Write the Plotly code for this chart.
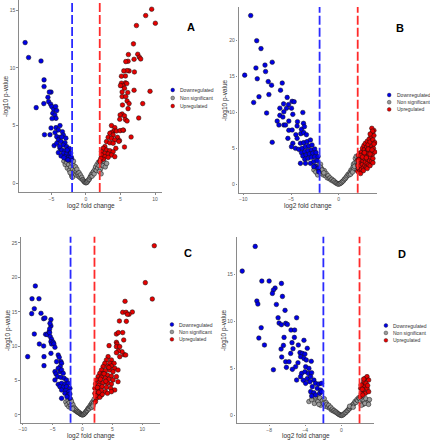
import plotly.graph_objects as go

W, H = 430, 440

# ---------------- Panel A ----------------
A_down_x = [-8.8, -8.3, -6.5, -7.2, -6.06, -6.06, -6.1, -6.0, -5.2, -5.05, -5.3, -5.5, -5.4, -5.1, -4.95, -4.66, -4.38, -4.8, -4.5, -4.33, -4.9, -4.23, -5.05, -4.33, -3.75, -3.99, -4.47, -3.41, -3.27, -4.23, -3.75, -3.99, -3.6, -3.03, -4.6, -4.23, -3.27, -2.8, -3.75, -3.5, -3.03, -2.55, -3.99, -3.27, -2.79, -2.31, -3.6, -3.03, -2.55, -2.07, -2.79, -2.31, -2.16, -2.4, -2.7, -3.8, -3.2, -2.6, -2.2, -3.5, -2.9]
A_down_y = [12.2, 10.9, 10.6, 6.55, 8.96, 8.38, 6.9, 4.2, 4.2, 7.9, 7.9, 7.45, 7.07, 6.84, 6.64, 6.4, 6.64, 6.06, 5.9, 5.62, 5.6, 6.29, 4.78, 4.81, 4.99, 4.61, 4.38, 4.46, 4.17, 4.03, 3.97, 3.74, 3.6, 3.5, 3.25, 3.45, 3.3, 3.16, 3.01, 2.87, 2.81, 2.72, 2.64, 2.58, 2.52, 2.49, 2.35, 2.29, 2.23, 2.14, 2.06, 2.0, 2.29, 3.0, 2.87, 3.2, 2.2, 2.0, 2.6, 4.0, 3.9]
A_ns_x = [-3.2, -3.0, -2.8, -2.7, -2.5, -2.4, -2.3, -2.2, -2.1, -2.0, -1.9, -1.8, -1.8, -1.7, -1.6, -1.5, -1.5, -1.4, -1.3, -1.2, -1.1, -1.0, -0.9, -0.8, -0.7, -0.6, -0.5, -0.4, -0.3, -0.2, -0.1, 0.0, 0.1, 0.2, 0.3, 0.4, 0.5, 0.6, 0.7, 0.8, 0.9, 1.0, 1.1, 1.2, 1.3, 1.4, 1.5, 1.6, 1.7, 1.8, 1.9, 2.0, 2.1, 2.3, 2.5, 2.6, 2.8, 3.0, -2.05, -1.95, -2.3, 1.95, 2.2]
A_ns_y = [1.9, 1.6, 1.8, 1.3, 1.6, 1.1, 1.9, 1.4, 0.8, 1.7, 1.2, 1.9, 0.9, 1.5, 1.1, 1.4, 0.7, 1.0, 1.2, 0.8, 0.6, 0.9, 0.5, 0.7, 0.4, 0.5, 0.3, 0.25, 0.15, 0.1, 0.05, 0.02, 0.05, 0.1, 0.2, 0.3, 0.35, 0.5, 0.6, 0.75, 0.6, 0.9, 1.0, 0.8, 1.2, 1.4, 1.1, 1.6, 1.3, 1.8, 1.5, 1.9, 1.2, 1.6, 1.5, 1.9, 1.4, 1.7, 0.6, 0.5, 0.9, 1.0, 0.8]
A_up_x = [9.52, 10.05, 8.65, 7.31, 6.88, 7.5, 7.74, 7.93, 6.97, 6.15, 6.1, 5.77, 6.25, 5.96, 7.02, 5.48, 5.72, 5.14, 5.72, 5.91, 5.14, 5.34, 5.0, 5.58, 6.97, 9.28, 6.06, 5.24, 5.24, 5.77, 5.96, 5.29, 6.25, 8.22, 6.1, 5.24, 4.95, 5.58, 7.64, 4.9, 5.72, 5.96, 3.7, 4.18, 4.04, 4.42, 4.95, 4.57, 5.43, 6.54, 3.7, 3.46, 3.94, 3.22, 3.7, 4.18, 2.98, 3.46, 3.94, 5.38, 4.86, 4.76, 5.58, 4.33, 2.74, 2.5, 2.98, 3.46, 3.94, 2.26, 2.74, 3.22, 3.7, 4.18, 2.26, 2.74, 3.22, 2.5, 2.16, 2.02]
A_up_y = [15.1, 13.88, 14.55, 13.68, 12.09, 11.19, 10.93, 10.78, 10.75, 11.16, 10.58, 10.55, 9.74, 9.77, 9.65, 9.74, 9.3, 9.28, 8.7, 8.64, 8.67, 8.46, 8.46, 8.23, 8.06, 7.97, 7.86, 7.91, 7.51, 7.51, 7.13, 6.78, 6.9, 6.9, 6.46, 6.0, 5.91, 5.83, 5.65, 5.54, 5.51, 5.39, 4.99, 4.81, 4.52, 4.52, 4.55, 3.97, 4.58, 4.0, 4.38, 4.32, 4.17, 3.97, 3.88, 3.74, 3.6, 3.5, 3.45, 4.6, 3.68, 3.62, 3.13, 3.01, 3.16, 3.01, 2.87, 2.81, 2.72, 2.72, 2.58, 2.52, 2.43, 2.29, 2.43, 2.29, 2.23, 2.06, 2.14, 1.86]

# ---------------- Panel B ----------------
B_down_x = [-9.23, -8.6, -8.15, -6.97, -7.73, -8.68, -7.67, -9.86, -8.54, -7.39, -5.92, -7.04, -6.1, -7.32, -8.36, -5.4, -8.92, -4.88, -4.67, -5.78, -5.26, -6.17, -5.47, -4.95, -5.75, -3.76, -7.56, -6.17, -5.85, -4.81, -6.45, -6.27, -5.75, -5.23, -4.32, -3.69, -5.23, -5.57, -4.88, -4.36, -3.9, -3.59, -5.33, -4.49, -3.97, -3.66, -3.38, -6.97, -4.81, -4.36, -4.95, -4.01, -3.66, -3.31, -2.96, -4.53, -4.18, -3.83, -3.48, -3.14, -2.79, -3.9, -3.55, -3.21, -2.86, -2.51, -3.76, -3.41, -3.07, -2.72, -2.37, -4.01, -3.55, -3.21, -2.86, -2.51, -2.16, -3.48, -2.96, -2.61, -2.26, -2.44, -2.16, -2.09, -2.61]
B_down_y = [23.5, 20.0, 18.9, 17.0, 16.6, 16.2, 15.7, 15.2, 14.7, 14.3, 14.1, 13.8, 13.1, 12.5, 12.2, 12.1, 11.4, 11.55, 11.5, 11.2, 11.1, 10.6, 10.6, 10.6, 10.1, 10.0, 9.93, 9.6, 9.37, 9.74, 8.8, 8.26, 8.26, 8.8, 8.72, 8.49, 7.52, 8.26, 7.56, 8.12, 7.66, 8.03, 6.4, 6.91, 7.05, 7.19, 6.91, 5.85, 5.71, 6.4, 5.24, 5.71, 5.8, 5.94, 6.17, 5.01, 4.87, 5.01, 5.24, 5.34, 5.48, 4.41, 4.55, 4.69, 4.78, 4.92, 3.94, 4.08, 4.22, 4.32, 4.41, 2.92, 3.48, 3.62, 3.76, 3.85, 3.85, 2.92, 2.92, 3.16, 3.29, 2.55, 2.23, 1.76, 2.46]
B_ns_x = [-2.6, -2.4, -2.3, -2.2, -2.1, -2.0, -1.9, -1.85, -1.8, -1.7, -1.6, -1.5, -1.4, -1.3, -1.2, -1.1, -1.0, -0.9, -0.8, -0.7, -0.6, -0.5, -0.4, -0.3, -0.2, -0.1, 0.0, 0.1, 0.2, 0.3, 0.4, 0.5, 0.6, 0.7, 0.8, 0.9, 1.0, 1.1, 1.2, 1.3, 1.4, 1.5, 1.55, 1.6, 1.7, 1.75, 1.8, 1.85, 1.9, 1.95, -1.95, -1.75, -1.55, 1.25, 1.45, 1.65]
B_ns_y = [2.0, 1.7, 2.3, 1.3, 2.6, 1.9, 2.8, 1.5, 2.2, 1.8, 1.3, 1.9, 1.2, 1.5, 0.9, 1.2, 0.8, 0.9, 0.6, 0.7, 0.45, 0.5, 0.3, 0.2, 0.15, 0.05, 0.02, 0.08, 0.15, 0.25, 0.4, 0.5, 0.7, 0.8, 1.0, 1.2, 1.4, 1.3, 1.7, 2.0, 1.9, 2.4, 2.8, 2.2, 3.0, 3.6, 2.6, 3.9, 3.2, 2.0, 2.4, 2.0, 1.6, 1.4, 1.7, 2.5]
B_up_x = [2.0, 2.0, 2.0, 2.05, 2.1, 2.15, 2.2, 2.2, 2.25, 2.3, 2.35, 2.4, 2.4, 2.45, 2.5, 2.5, 2.55, 2.6, 2.6, 2.65, 2.7, 2.7, 2.75, 2.8, 2.8, 2.85, 2.9, 2.9, 2.95, 3.0, 3.0, 3.0, 3.05, 3.1, 3.1, 3.15, 3.2, 3.2, 3.25, 3.3, 3.3, 3.35, 3.4, 3.4, 3.45, 3.5, 3.5, 3.55, 3.6, 3.6, 3.65, 3.7, 3.7, 3.48, 3.55, 3.3, 2.3, 2.6, 3.0, 3.3, 3.6, 3.8, 3.8, 2.1, 2.3, 2.5, 2.7, 2.9, 3.1, 3.3, 3.5, 3.7]
B_up_y = [1.8, 2.6, 3.3, 4.0, 2.2, 3.0, 3.7, 4.3, 1.9, 2.6, 3.4, 4.5, 2.1, 3.9, 2.8, 5.0, 3.3, 4.2, 2.3, 5.4, 3.6, 4.8, 2.6, 3.1, 5.7, 4.0, 2.4, 4.5, 5.2, 3.5, 6.0, 2.9, 4.8, 3.9, 5.5, 2.7, 4.3, 6.3, 3.3, 5.0, 5.9, 3.8, 4.6, 6.7, 3.2, 5.3, 7.1, 4.2, 6.2, 3.6, 5.0, 7.5, 6.8, 7.8, 7.4, 7.0, 1.5, 1.9, 2.2, 2.6, 3.0, 5.8, 4.5, 3.4, 4.0, 3.8, 4.4, 3.7, 4.9, 4.2, 4.8, 5.6]

# ---------------- Panel C ----------------
C_down_x = [-9.17, -8.5, -8.44, -8.06, -7.89, -8.06, -7.28, -6.94, -7.22, -6.5, -6.28, -6.5, -6.44, -6.44, -6.17, -5.89, -5.61, -5.28, -5.28, -5.44, -5.5, -5.5, -5.39, -5.17, -5.28, -5.17, -4.89, -4.78, -5.28, -4.61, -4.06, -3.89, -3.61, -3.5, -3.72, -4.33, -4.61, -4.44, -4.06, -3.78, -3.5, -3.22, -4.17, -3.61, -3.06, -2.67, -4.06, -3.5, -2.94, -2.39, -3.78, -3.22, -2.67, -2.11, -3.5, -2.83, -2.28, -2.94, -2.39, -2.1, -3.5, -2.11, -2.61, -4.61]
C_down_y = [8.48, 14.73, 16.9, 15.45, 18.75, 11.77, 16.9, 14.78, 10.32, 14.0, 14.1, 10.03, 8.48, 7.17, 11.72, 11.68, 12.06, 13.86, 12.94, 13.32, 12.5, 11.97, 11.39, 11.0, 10.66, 10.32, 10.56, 10.32, 8.96, 9.84, 8.72, 8.38, 7.75, 7.51, 7.03, 7.75, 6.3, 5.96, 6.78, 6.3, 6.54, 6.06, 5.57, 5.47, 5.33, 5.09, 4.46, 4.6, 4.5, 4.6, 4.12, 4.02, 4.12, 3.88, 3.63, 3.54, 3.39, 3.15, 2.91, 3.05, 2.42, 2.42, 2.66, 5.09]
C_ns_x = [-2.8, -2.6, -2.4, -2.3, -2.2, -2.0, -2.0, -1.9, -1.8, -1.7, -1.6, -1.5, -1.4, -1.3, -1.2, -1.1, -1.0, -0.9, -0.8, -0.7, -0.6, -0.5, -0.4, -0.3, -0.2, -0.1, 0.0, 0.1, 0.2, 0.3, 0.4, 0.5, 0.6, 0.7, 0.8, 0.9, 1.0, 1.1, 1.2, 1.3, 1.4, 1.5, 1.6, 1.7, 1.8, 1.9, 1.95, -1.85, -1.65, 1.55, 1.75]
C_ns_y = [1.9, 1.5, 2.1, 1.2, 1.8, 2.3, 1.4, 1.0, 1.7, 1.2, 1.5, 0.9, 1.1, 0.7, 0.9, 0.6, 0.7, 0.45, 0.5, 0.35, 0.4, 0.25, 0.2, 0.12, 0.08, 0.04, 0.02, 0.05, 0.1, 0.18, 0.3, 0.35, 0.5, 0.6, 0.7, 0.9, 1.0, 0.9, 1.2, 1.4, 1.2, 1.6, 1.8, 1.5, 2.0, 1.7, 2.3, 2.0, 0.9, 1.1, 1.3]
C_up_x = [12.0, 10.5, 11.67, 7.11, 6.72, 7.28, 8.33, 7.78, 7.5, 6.17, 7.33, 5.67, 6.0, 6.72, 6.89, 5.67, 5.78, 5.67, 4.44, 6.94, 7.22, 6.61, 6.0, 6.22, 5.67, 6.22, 4.28, 4.0, 4.83, 3.72, 4.56, 5.28, 3.44, 4.17, 4.83, 5.39, 3.17, 3.83, 4.56, 5.11, 5.94, 2.89, 3.44, 4.17, 4.83, 5.67, 2.61, 3.17, 3.83, 4.39, 5.11, 2.33, 2.89, 3.44, 4.17, 4.83, 5.94, 2.17, 2.72, 3.28, 4.0, 4.72, 5.39, 2.06, 2.61, 3.17, 3.83, 2.06, 2.61, 3.17, 2.33, 2.89, 2.17, 4.17, 4.83, 3.0, 3.6, 2.5, 4.4, 3.3, 2.2, 2.7, 3.9]
C_up_y = [24.6, 19.23, 16.86, 16.52, 14.92, 14.92, 14.97, 14.63, 14.63, 13.66, 13.61, 11.77, 11.97, 11.97, 10.9, 10.56, 10.32, 9.93, 10.08, 8.77, 8.72, 9.2, 9.3, 9.93, 9.06, 8.48, 8.48, 8.0, 8.0, 7.51, 7.51, 7.51, 7.03, 7.03, 7.12, 6.78, 6.54, 6.44, 6.54, 6.3, 6.54, 6.06, 5.96, 5.81, 5.67, 5.57, 5.57, 5.47, 5.33, 5.18, 5.09, 5.09, 4.84, 4.7, 4.6, 4.5, 4.84, 4.5, 4.31, 4.12, 4.02, 3.88, 3.63, 3.88, 3.63, 3.54, 3.39, 3.15, 3.05, 2.91, 2.42, 2.57, 1.94, 3.15, 3.39, 5.2, 6.0, 4.0, 6.9, 3.0, 2.8, 3.3, 4.9]

# ---------------- Panel D ----------------
D_down_x = [-9.54, -10.98, -8.81, -8.0, -6.64, -7.34, -7.53, -7.64, -6.53, -9.36, -9.25, -7.2, -6.24, -7.01, -4.96, -6.9, -6.64, -6.17, -5.98, -8.88, -5.58, -5.18, -6.35, -9.14, -5.21, -8.52, -6.42, -5.47, -4.15, -6.68, -5.36, -4.77, -3.78, -4.59, -4.33, -4.04, -6.61, -5.62, -6.17, -5.8, -4.81, -3.34, -4.52, -4.15, -3.89, -6.09, -5.07, -7.53, -5.43, -3.96, -3.6, -4.41, -4.04, -3.67, -3.3, -4.96, -4.52, -4.22, -3.78, -3.41, -3.05, -3.96, -3.49, -2.86, -2.5, -2.2, -3.23, -2.68, -2.31, -3.41, -3.05, -2.42, -2.86, -3.3, -2.2]
D_down_y = [17.97, 15.35, 14.29, 14.29, 14.04, 13.55, 13.34, 12.98, 12.66, 12.17, 11.85, 11.81, 11.18, 10.4, 10.4, 9.83, 9.66, 9.8, 9.69, 9.34, 9.09, 9.09, 8.31, 8.24, 8.31, 7.5, 7.46, 7.75, 8.0, 7.07, 7.11, 7.5, 7.15, 6.69, 6.61, 6.54, 6.23, 6.61, 5.73, 5.73, 5.62, 5.77, 6.26, 6.08, 5.91, 5.13, 5.2, 4.88, 4.92, 5.2, 5.02, 4.49, 4.67, 4.49, 4.56, 3.78, 4.14, 3.75, 3.93, 4.14, 3.78, 3.43, 3.61, 3.43, 3.36, 3.43, 3.08, 2.9, 2.72, 2.55, 2.44, 2.37, 2.19, 2.09, 2.55]
D_ns_x = [-3.6, -3.3, -3.0, -2.8, -2.6, -2.4, -2.3, -2.1, -2.0, -1.9, -1.8, -1.7, -1.6, -1.5, -1.4, -1.3, -1.2, -1.1, -1.0, -0.9, -0.8, -0.7, -0.6, -0.5, -0.4, -0.3, -0.2, -0.1, 0.0, 0.1, 0.2, 0.3, 0.4, 0.5, 0.6, 0.7, 0.8, 0.9, 1.0, 1.1, 1.2, 1.3, 1.4, 1.5, 1.6, 1.7, 1.8, 1.9, 2.0, 2.1, 2.3, 2.5, 2.7, 2.9, 3.1, 2.4, 0.9, 1.3, 2.2, 2.6, 3.0, -2.9, -2.5]
D_ns_y = [1.5, 1.7, 1.3, 1.8, 1.5, 1.9, 1.1, 1.6, 1.3, 1.8, 1.0, 1.4, 1.2, 0.9, 1.1, 0.8, 0.9, 0.6, 0.7, 0.5, 0.55, 0.4, 0.4, 0.3, 0.22, 0.15, 0.1, 0.05, 0.02, 0.06, 0.12, 0.2, 0.3, 0.35, 0.5, 0.55, 0.7, 0.75, 0.9, 1.0, 1.1, 1.2, 1.3, 1.5, 1.4, 1.7, 1.6, 1.9, 1.8, 1.5, 1.7, 1.6, 1.8, 1.4, 1.7, 1.2, 1.0, 0.9, 1.1, 1.3, 1.2, 2.0, 1.2]
D_up_x = [2.64, 2.83, 3.01, 2.46, 2.28, 2.57, 2.13, 2.46, 2.83, 2.2, 2.64, 3.01, 2.09, 2.35, 2.17, 2.46, 2.72, 2.9, 2.3]
D_up_y = [3.96, 4.14, 3.78, 3.61, 3.25, 3.08, 2.9, 2.72, 2.9, 2.37, 2.37, 2.55, 2.02, 2.19, 3.25, 3.89, 3.43, 3.2, 2.8]

CATEGORIES = ["Downregulated", "Non significant", "Upregulated"]
PANEL_LABELS = ["A", "B", "C", "D"]
X_TITLE = "log2 fold change"
Y_TITLE = "-log10 p-value"

COLORS = {"Downregulated": "#0000e6", "Non significant": "#9a9a9a", "Upregulated": "#e60000"}
LINE_BLUE = "#2a2aff"
LINE_RED = "#ff2a2a"

def fx(px):
    return px / W

def fy(py):
    return 1 - py / H

# panel geometry in pixels: left, right, top, bottom ; axis ranges ; tick step
panels = [
    dict(data=[(A_down_x, A_down_y), (A_ns_x, A_ns_y), (A_up_x, A_up_y)],
         box=(17, 161, 0, 192), xr=[-9.7, 11.05], yr=[-0.78, 15.9], xd=5, yd=5,
         label=(190, 27), legend=(171.5, 90, 8), xt=(89, 206.5), yt=(4, 96)),
    dict(data=[(B_down_x, B_down_y), (B_ns_x, B_ns_y), (B_up_x, B_up_y)],
         box=(237.7, 377, 7, 192.7), xr=[-10.5, 4.05], yr=[-1.17, 24.69], xd=5, yd=5,
         label=(400, 28), legend=(389, 95, 7.2), xt=(307, 206.5), yt=(224, 100)),
    dict(data=[(C_down_x, C_down_y), (C_ns_x, C_ns_y), (C_up_x, C_up_y)],
         box=(19, 159, 236.7, 422.7), xr=[-10.3, 13.0], yr=[-1.12, 25.91], xd=5, yd=5,
         label=(186.7, 253), legend=(170.7, 324.5, 7.4), xt=(89, 436.3), yt=(6, 330)),
    dict(data=[(D_down_x, D_down_y), (D_ns_x, D_ns_y), (D_up_x, D_up_y)],
         box=(235.7, 374, 236.7, 423.3), xr=[-11.6, 3.63], yr=[-0.81, 19.0], xd=4, yd=5,
         label=(401.7, 254), legend=(385.7, 325.5, 7.4), xt=(305, 436.3), yt=(223, 330)),
]

fig = go.Figure()
shapes = []
annotations = []
axis_font = dict(family="Liberation Sans, Arial", size=5, color="#555555")

for i, p in enumerate(panels):
    n = "" if i == 0 else str(i + 1)
    xa, ya = "x" + n, "y" + n
    l, r, t, b = p["box"]
    # grey first, then colored on top
    for k in [1, 0, 2]:
        xs, ys = p["data"][k]
        cat = CATEGORIES[k]
        fig.add_trace(go.Scatter(
            x=xs, y=ys, mode="markers", name=cat, showlegend=False,
            xaxis=xa, yaxis=ya,
            marker=dict(size=4.6, color=COLORS[cat], line=dict(color="#111111", width=0.5)),
            hoverinfo="skip"))

    common = dict(showline=True, linecolor="#8a8a8a", linewidth=1.4, showgrid=False, zeroline=False,
                  ticks="outside", ticklen=1.5, tickwidth=0.8, tickcolor="#8a8a8a",
                  tickfont=axis_font, fixedrange=True)
    fig.layout["xaxis" + n] = dict(domain=[fx(l), fx(r)], range=p["xr"], anchor=ya,
                                   tick0=0, dtick=p["xd"], **common)
    fig.layout["yaxis" + n] = dict(domain=[fy(b), fy(t)], range=p["yr"], anchor=xa,
                                   tick0=0, dtick=p["yd"], **common)

    # threshold lines at -2 and 2
    for xv, col in [(-2, LINE_BLUE), (2, LINE_RED)]:
        shapes.append(dict(type="line", xref=xa, yref=ya + " domain", x0=xv, x1=xv, y0=0, y1=1,
                           line=dict(color=col, width=1.8, dash="9px,3px")))

    # panel label
    annotations.append(dict(text="<b>" + PANEL_LABELS[i] + "</b>", xref="paper", yref="paper",
                            x=fx(p["label"][0]), y=fy(p["label"][1]), showarrow=False,
                            xanchor="center", yanchor="middle",
                            font=dict(family="Liberation Sans, Arial", size=11, color="#000000")))
    # axis titles
    annotations.append(dict(text=X_TITLE, xref="paper", yref="paper",
                            x=fx(p["xt"][0]), y=fy(p["xt"][1]), showarrow=False,
                            xanchor="center", yanchor="middle",
                            font=dict(family="Liberation Sans, Arial", size=6.5, color="#333333")))
    annotations.append(dict(text=Y_TITLE, xref="paper", yref="paper", textangle=-90,
                            x=fx(p["yt"][0]), y=fy(p["yt"][1]), showarrow=False,
                            xanchor="center", yanchor="middle",
                            font=dict(family="Liberation Sans, Arial", size=6.5, color="#333333")))
    # legend (dots + labels)
    lx, ly, step = p["legend"]
    for k, cat in enumerate(CATEGORIES):
        cy = ly + k * step
        rr = 1.9
        shapes.append(dict(type="circle", xref="paper", yref="paper",
                           x0=fx(lx - rr), x1=fx(lx + rr), y0=fy(cy + rr), y1=fy(cy - rr),
                           fillcolor=COLORS[cat], line=dict(color="#222222", width=0.4)))
        annotations.append(dict(text=cat, xref="paper", yref="paper",
                                x=fx(lx + 5.5), y=fy(cy), showarrow=False,
                                xanchor="left", yanchor="middle",
                                font=dict(family="Liberation Sans, Arial", size=5, color="#333333")))

fig.update_layout(width=W, height=H, margin=dict(l=0, r=0, t=0, b=0),
                  paper_bgcolor="white", plot_bgcolor="white",
                  shapes=shapes, annotations=annotations, showlegend=False)

fig.write_html("out.html", config={"displayModeBar": False},
               post_script="document.body.style.margin='0';document.body.style.overflow='hidden';")
